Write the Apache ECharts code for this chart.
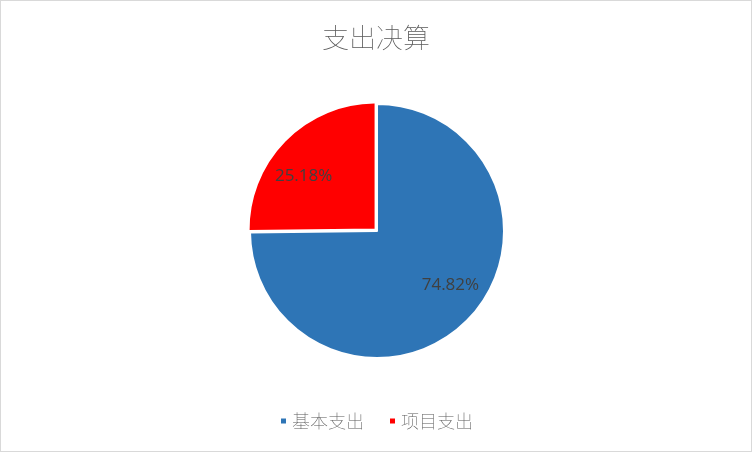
<!DOCTYPE html>
<html>
<head>
<meta charset="utf-8">
<script src="https://cdn.jsdelivr.net/npm/echarts@6/dist/echarts.min.js"></script>
<style>
    html, body { margin: 0; padding: 0; background: #fff; }
    #main { width: 750px; height: 450px; border: 1px solid #d9d9d9; }
</style>
</head>
<body>

<div id="main"></div>

<script type="text/javascript">
    var categories = ['基本支出', '项目支出'];
    var values = [74.82, 25.18];
    var colors = ['#2e75b6', '#ff0000'];

    var pieData = categories.map(function (name, i) {
        return { name: name, value: values[i], selected: i === 1, itemStyle: { color: colors[i] } };
    });

    var myChart = echarts.init(document.getElementById('main'));

    var option = {
        title: {
            text: '支出决算',
            left: 'center',
            top: 18,
            textStyle: {
                fontFamily: 'Noto Sans CJK SC',
                fontSize: 27,
                fontWeight: 'lighter',
                color: '#595959'
            }
        },
        legend: {
            bottom: 16,
            left: 'center',
            icon: 'rect',
            itemWidth: 7,
            itemHeight: 7,
            itemGap: 24,
            data: categories,
            textStyle: {
                fontFamily: 'Noto Sans CJK SC',
                fontSize: 18,
                fontWeight: 'lighter',
                color: '#595959'
            }
        },
        series: [
            {
                type: 'pie',
                center: [376, 230],
                radius: 127,
                startAngle: 90,
                clockwise: true,
                selectedMode: 'single',
                selectedOffset: 2,
                silent: true,
                avoidLabelOverlap: false,
                itemStyle: { borderColor: '#fff', borderWidth: 2 },
                label: { show: false },
                labelLine: { show: false },
                data: pieData
            },
            {
                // transparent ring on top, used only to place the labels
                type: 'pie',
                z: 5,
                center: [376, 230],
                radius: [50, 127],
                startAngle: 98,
                clockwise: true,
                silent: true,
                avoidLabelOverlap: false,
                legendHoverLink: false,
                itemStyle: { color: 'rgba(0,0,0,0)' },
                label: {
                    show: true,
                    position: 'inside',
                    formatter: function (p) { return p.value.toFixed(2) + '%'; },
                    fontFamily: 'Open Sans',
                    fontSize: 17,
                    color: '#404040'
                },
                labelLine: { show: false },
                data: categories.map(function (name, i) {
                    return { name: name + ' ', value: values[i] };
                })
            }
        ]
    };

    myChart.setOption(option);
</script>
</body>
</html>
